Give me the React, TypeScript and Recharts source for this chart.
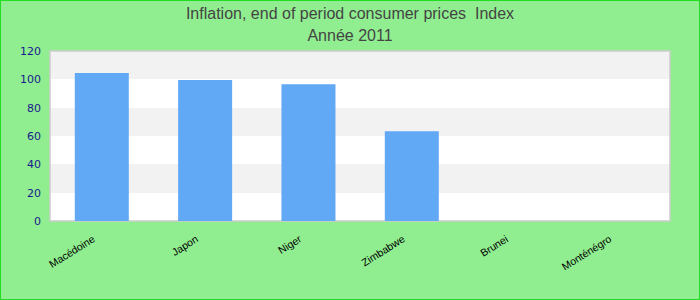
import { Bar, BarChart, CartesianGrid, ReferenceArea, XAxis, YAxis } from 'recharts'

const categories = ['Macédoine', 'Japon', 'Niger', 'Zimbabwe', 'Brunei', 'Monténégro']
const values = [104.4, 99.6, 96.6, 63.3, 0, 0]
const yTicks = [0, 20, 40, 60, 80, 100, 120]

const data = categories.map((name, i) => ({ name, value: values[i] }))

function AngledTick({ x, y, payload }: any) {
  return (
    <g transform={`translate(${x - 6},${y + 12}) rotate(-32)`}>
      <text
        x={0}
        y={0}
        textAnchor="end"
        fill="#000"
        fontSize={10.5}
        fontFamily="'Liberation Sans', Arial, sans-serif"
      >
        {payload.value}
      </text>
    </g>
  )
}

export default function App() {
  return (
    <div
      style={{
        position: 'absolute',
        left: 0,
        top: 0,
        width: 700,
        height: 300,
        boxSizing: 'border-box',
        border: '1px solid #22dd22',
        background: '#90ee90',
      }}
    >
      <div
        style={{
          position: 'absolute',
          top: 2,
          width: '100%',
          textAlign: 'center',
          fontFamily: "'Liberation Sans', Arial, sans-serif",
          fontSize: 16,
          lineHeight: '22px',
          color: '#444',
        }}
      >
        <div>Inflation, end of period consumer prices&nbsp; Index</div>
        <div>Année 2011</div>
      </div>
      <BarChart
        width={698}
        height={298}
        data={data}
        margin={{ top: 50, right: 29, bottom: 0, left: 0 }}
        barCategoryGap="24%"
      >
        <CartesianGrid
          vertical={false}
          stroke="none"
          horizontalFill={['#f2f2f2', '#ffffff']}
          fillOpacity={1}
        />
        <XAxis
          dataKey="name"
          interval={0}
          tickLine={false}
          axisLine={false}
          height={78}
          tick={<AngledTick />}
        />
        <YAxis
          width={49}
          domain={[0, 120]}
          ticks={yTicks}
          tickLine={false}
          axisLine={false}
          tickMargin={3}
          tick={{ fill: '#1a1a8c', fontSize: 11, fontFamily: "'DejaVu Sans', sans-serif" }}
        />
        <ReferenceArea y1={0} y2={120} fill="none" stroke="#cccccc" strokeWidth={1.5} ifOverflow="visible" />
        <Bar dataKey="value" fill="#61a8f5" isAnimationActive={false} />
      </BarChart>
    </div>
  )
}
